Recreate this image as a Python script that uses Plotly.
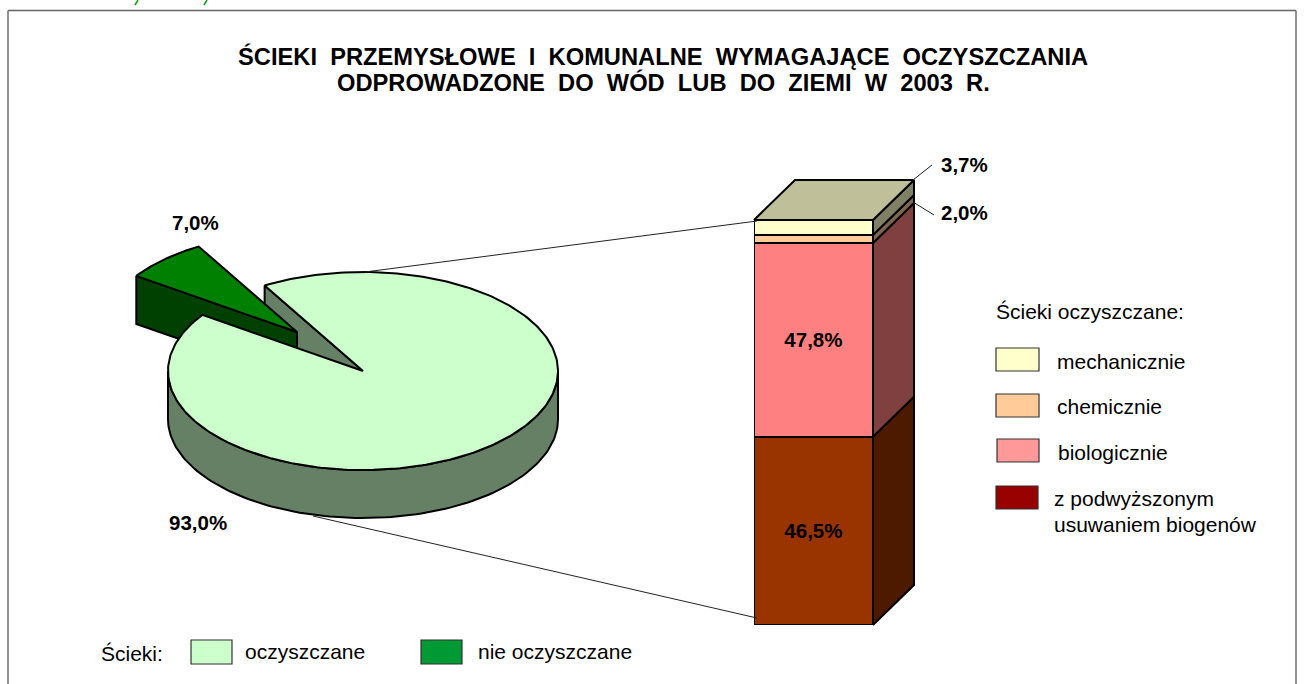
import numpy as np
import plotly.graph_objects as go

W, H = 1305, 684
FONT = "Liberation Sans, Arial, sans-serif"

# ---- data ----
pie_labels = ["oczyszczane", "nie oczyszczane"]
pie_values = [93.0, 7.0]
pie_text = ["93,0%", "7,0%"]
bar_labels = ["z podwyższonym usuwaniem biogenów", "biologicznie", "chemicznie", "mechanicznie"]
bar_values = [46.5, 47.8, 2.0, 3.7]
bar_text = ["46,5%", "47,8%", "2,0%", "3,7%"]
bar_colors = ["#993300", "#FF8080", "#FFCC99", "#FFFFCC"]
bar_side_colors = ["#4D1A00", "#804040", "#806650", "#808066"]
bar_top_color = "#BFBF99"
title_lines = ["ŚCIEKI  PRZEMYSŁOWE  I  KOMUNALNE  WYMAGAJĄCE  OCZYSZCZANIA",
               "ODPROWADZONE  DO  WÓD  LUB  DO  ZIEMI  W  2003  R."]

# ---- geometry of the pseudo-3D drawing (page pixels) ----
CX, CY, RX, RY, DEPTH = 363, 371, 195, 99, 48
WEDGE_DX, WEDGE_DY = -66, -39
START = 145.5
BAR_L, BAR_R, BAR_B, BAR_T = 754, 873, 625, 220
BAR_DX, BAR_DY = 41, -40
LW = 2


def ell(t):
    t = np.radians(t)
    return CX + RX * np.cos(t), CY - RY * np.sin(t)


def poly(fig, xs, ys, fill, lw=LW):
    fig.add_trace(go.Scatter(x=list(xs), y=list(ys), mode="lines", fill="toself", fillcolor=fill,
                             line=dict(color="black", width=lw), hoverinfo="skip",
                             showlegend=False, xaxis="x", yaxis="y"))


fig = go.Figure()

sweep = pie_values[1] * 3.6
t_a, t_b = START, START - sweep

# cut face of the main slice, behind the detached wedge
xb, yb = ell(t_b)
poly(fig, [xb, CX, CX, xb, xb], [yb, CY, CY + DEPTH, yb + DEPTH, yb], "#668066")

# detached wedge
xa, ya = ell(t_a)
poly(fig,
     [xa + WEDGE_DX, CX + WEDGE_DX, CX + WEDGE_DX, xa + WEDGE_DX, xa + WEDGE_DX],
     [ya + WEDGE_DY, CY + WEDGE_DY, CY + WEDGE_DY + DEPTH, ya + WEDGE_DY + DEPTH, ya + WEDGE_DY],
     "#004000")
ts = np.linspace(t_a, t_b, 30)
ex, ey = ell(ts)
poly(fig,
     np.r_[CX + WEDGE_DX, ex + WEDGE_DX, CX + WEDGE_DX],
     np.r_[CY + WEDGE_DY, ey + WEDGE_DY, CY + WEDGE_DY],
     "#008000")

# main slice: rim
ts = np.linspace(180, 360, 120)
ex, ey = ell(ts)
poly(fig, np.r_[ex, ex[::-1], ex[0]], np.r_[ey, ey[::-1] + DEPTH, ey[0]], "#668066")

# main slice: top
ts = np.linspace(t_b, t_a - 360, 300)
ex, ey = ell(ts)
poly(fig, np.r_[CX, ex, CX], np.r_[CY, ey, CY], "#CCFFCC")

# bar: side faces and top, derived from the values
scale = (BAR_B - BAR_T) / sum(bar_values)
base = 0.0
for v, c in zip(bar_values, bar_side_colors):
    y0 = BAR_B - base * scale
    y1 = BAR_B - (base + v) * scale
    poly(fig, [BAR_R, BAR_R + BAR_DX, BAR_R + BAR_DX, BAR_R, BAR_R],
         [y0, y0 + BAR_DY, y1 + BAR_DY, y1, y0], c)
    base += v
poly(fig, [BAR_L, BAR_R, BAR_R + BAR_DX, BAR_L + BAR_DX, BAR_L],
     [BAR_T, BAR_T, BAR_T + BAR_DY, BAR_T + BAR_DY, BAR_T], bar_top_color)

# bar: front, real stacked bar on its own axes
for i, (lab, v, c, t) in enumerate(zip(bar_labels, bar_values, bar_colors, bar_text)):
    fig.add_trace(go.Bar(x=["oczyszczane"], y=[v], name=lab, marker=dict(color=c, line=dict(color="black", width=2.2)),
                         text=[f"<b>{t}</b>" if v > 10 else ""], textposition="inside", insidetextanchor="middle",
                         textangle=0, insidetextfont=dict(family=FONT, size=20.5, color="black"),
                         cliponaxis=False, constraintext="none",
                         hoverinfo="skip", showlegend=False, xaxis="x2", yaxis="y2"))

shapes = []


def seg(x0, y0, x1, y1, color, width):
    shapes.append(dict(type="line", xref="paper", yref="paper", x0=x0 / W, y0=1 - y0 / H, x1=x1 / W, y1=1 - y1 / H,
                       line=dict(color=color, width=width)))


# frame
for x0, y0, x1, y1 in [(8, 10.5, 1296, 10.5), (8, 10.5, 8, 684), (1296, 10.5, 1296, 684)]:
    seg(x0, y0, x1, y1, "#666666", 1.4)
# leader lines
for x0, y0, x1, y1 in [(365, 272, 757, 221), (313, 516, 757, 618), (913, 180, 932, 165), (913, 202, 934, 215)]:
    seg(x0, y0, x1, y1, "#222222", 1)
# clipped green marks at the very top
for x0, x1 in [(138, 135), (207, 204)]:
    seg(x0, 0, x1, 5, "#129C12", 1.5)
# legend swatches
swatches = [(996, 348, 1039, 371, "#FFFFCC"), (996, 394, 1039, 417, "#FFCC99"),
            (997, 439, 1039, 462, "#FF9999"), (996, 486, 1038, 509, "#990000"),
            (191, 640, 232, 664, "#CCFFCC"), (421, 640, 462, 664, "#009933")]
for x0, y0, x1, y1, c in swatches:
    shapes.append(dict(type="rect", xref="paper", yref="paper", x0=x0 / W, y0=1 - y0 / H, x1=x1 / W, y1=1 - y1 / H,
                       fillcolor=c, line=dict(color="#333333", width=1.2)))

ann = []


def txt(x, y, s, size=21, bold=False, anchor="left"):
    ann.append(dict(x=x, y=y, xref="x", yref="y", text=f"<b>{s}</b>" if bold else s, showarrow=False,
                    xanchor=anchor, yanchor="middle", align=anchor,
                    font=dict(family=FONT, size=size, color="black")))


txt(663, 56, title_lines[0], 23.7, True, "center")
txt(663, 82, title_lines[1], 23.7, True, "center")
txt(195, 222.5, pie_text[1], 20.5, True, "center")
txt(198, 522, pie_text[0], 20.5, True, "center")
txt(964, 164, bar_text[3], 20.5, True, "center")
txt(964, 212, bar_text[2], 20.5, True, "center")
txt(994, 311, "Ścieki oczyszczane:")
txt(1055, 361, bar_labels[3])
txt(1055, 406, bar_labels[2])
txt(1056, 452, bar_labels[1])
txt(1052, 498, "z podwyższonym")
txt(1052, 524, "usuwaniem biogenów")
txt(99, 653, "Ścieki:")
txt(243, 651, pie_labels[0])
txt(476, 651, pie_labels[1])

fig.update_layout(
    width=W, height=H, autosize=False, margin=dict(l=0, r=0, t=0, b=0),
    paper_bgcolor="white", plot_bgcolor="rgba(0,0,0,0)",
    barmode="stack", bargap=0, shapes=shapes, annotations=ann,
    xaxis=dict(domain=[0, 1], range=[0, W], visible=False, fixedrange=True),
    yaxis=dict(domain=[0, 1], range=[H, 0], visible=False, fixedrange=True),
    xaxis2=dict(domain=[BAR_L / W, BAR_R / W], anchor="y2", type="category", visible=False, fixedrange=True),
    yaxis2=dict(domain=[1 - BAR_B / H, 1 - BAR_T / H], anchor="x2", range=[0, sum(bar_values)], visible=False,
                fixedrange=True),
)
fig.write_html("out.html", post_script="document.body.style.margin='0';", config=dict(displayModeBar=False))
